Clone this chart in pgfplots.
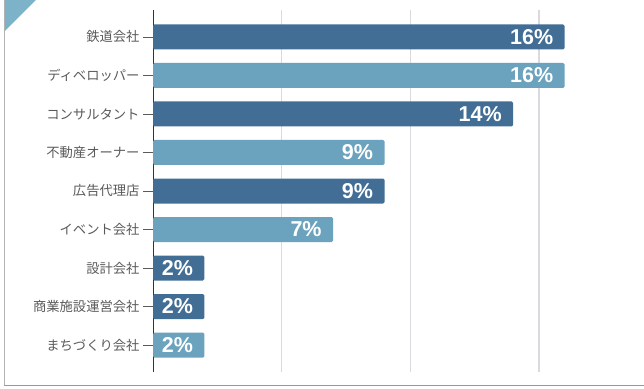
\documentclass[border=0pt]{standalone}
\usepackage{fontspec}
\usepackage{pgfplots}
\pgfplotsset{compat=1.18}
\newfontfamily\cjk{Noto Sans CJK JP}
\newfontfamily\lab{Liberation Sans}
\definecolor{bardark}{HTML}{426E96}
\definecolor{barlight}{HTML}{6BA2BD}
\definecolor{corner}{HTML}{7DB3C8}
\definecolor{gridc}{HTML}{DADADE}
\definecolor{labc}{HTML}{5A5A5A}
\begin{document}
\begin{tikzpicture}[x=1pt,y=1pt]
\useasboundingbox (0,0) rectangle (644,388);
% frame and corner decoration
\fill[corner] (4,388) -- (36,388) -- (4,356) -- cycle;
\draw[gray!60, line width=0.8pt] (4,388) -- (4,3);
\draw[gray!80, line width=1.6pt] (4,2.5) -- (644,2.5);
\begin{axis}[
  at={(153pt,16pt)}, anchor=south west,
  scale only axis, width=476pt, height=362pt,
  xmin=0, xmax=18.5,
  ymin=-0.7, ymax=8.7, y dir=reverse,
  axis lines=left,
  y axis line style={black!80, line width=0.8pt, -},
  x axis line style={draw=none},
  xtick={5,10,15}, xticklabels={}, xmajorgrids,
  xtick style={draw=none},
  major grid style={gridc, line width=1.3pt},
  ytick={0,...,8},
  yticklabels={鉄道会社,ディベロッパー,コンサルタント,不動産オーナー,広告代理店,イベント会社,設計会社,商業施設運営会社,まちづくり会社},
  yticklabel style={font=\cjk\fontsize{13.3}{15}\selectfont, text=labc},
  ytick style={labc, line width=0.7pt},
  tick align=outside, major tick length=10pt,
  /pgf/number format/assume math mode=true,
  xbar, bar width=25pt, bar shift=0pt,
  point meta=x,
  nodes near coords={\pgfmathprintnumber{\pgfplotspointmeta}\%},
  every node near coord/.append style={anchor=east, xshift=-8pt,
    text=white, font=\lab\bfseries\fontsize{21.5}{23}\selectfont},
]
% dark bars
\addplot[draw=none, fill=bardark, rounded corners=1.5pt] coordinates {
  (16,0) (14,2) (9,4) (2,6) (2,7)
};
% light bars
\addplot[draw=none, fill=barlight, rounded corners=1.5pt] coordinates {
  (16,1) (9,3) (7,5) (2,8)
};
\end{axis}
\end{tikzpicture}
\end{document}
